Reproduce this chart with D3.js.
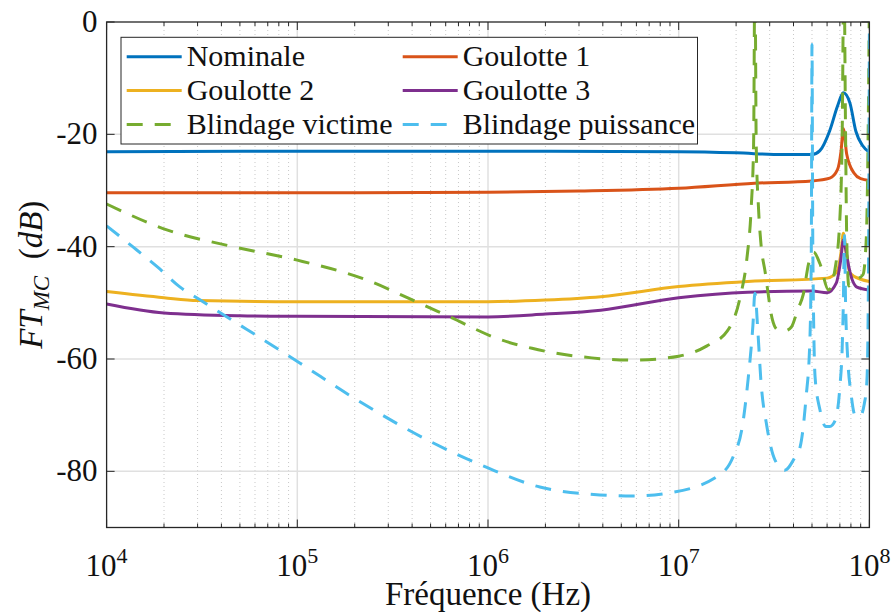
<!DOCTYPE html>
<html>
<head>
<meta charset="utf-8">
<script src="https://cdn.jsdelivr.net/npm/d3@7"></script>
</head>
<body style="margin:0">
<script>
// --- data (frequency in Hz, level in dB) ---
const freqNominale = [1e4, 1e5, 1e6, 1e7, 2e7, 3.5e7, 5e7, 5.5e7, 6.2e7, 6.8e7, 7.3e7, 7.9e7, 8.5e7, 9.2e7, 1e8];
const dbNominale   = [-23.1, -23.0, -23.0, -23.1, -23.3, -23.6, -23.6, -22.9, -19.3, -15.0, -12.6, -14.4, -19.5, -22.0, -23.2];

const freqGoulotte1 = [1e4, 1e5, 1e6, 3e6, 1e7, 2.5e7, 5e7, 6.2e7, 6.8e7, 7.1e7, 7.3e7, 7.6e7, 8.3e7, 9e7, 1e8];
const dbGoulotte1   = [-30.4, -30.4, -30.3, -30.1, -29.6, -28.7, -28.3, -27.8, -26.3, -23, -19.0, -23.5, -26.9, -27.9, -28.2];

const freqGoulotte2 = [1e4, 2e4, 3e4, 1e5, 1e6, 2e6, 3.9e6, 1e7, 2.3e7, 6e7, 6.8e7, 7.1e7, 7.3e7, 7.6e7, 7.9e7, 9e7, 1e8];
const dbGoulotte2   = [-48.0, -49.1, -49.6, -49.8, -49.8, -49.5, -48.9, -47.1, -46.2, -45.6, -44.3, -41, -37.6, -41.5, -44.7, -45.8, -46.2];

const freqGoulotte3 = [1e4, 2e4, 5e4, 1e5, 1e6, 2e6, 3.9e6, 1e7, 2.3e7, 5e7, 6e7, 6.7e7, 7.1e7, 7.3e7, 7.6e7, 7.8e7, 8.6e7, 1e8];
const dbGoulotte3   = [-50.2, -51.8, -52.3, -52.4, -52.5, -52.0, -51.3, -49.1, -48.1, -47.9, -48.2, -46.5, -42, -38.8, -41.5, -43.6, -47.2, -47.7];

const freqVictime = [1e4, 2.07e4, 4.6e4, 1e5, 2.3e5, 4.2e5, 6.3e5, 1.15e6, 1.7e6, 3.5e6, 5.8e6, 1e7, 1.4e7, 1.8e7,
  2.1e7, 2.28e7, 2.4e7, 2.47e7, 2.51e7, 2.55e7, 2.62e7, 2.7e7, 2.84e7, 3.1e7, 3.3e7, 3.6e7, 3.9e7, 4.2e7, 4.5e7,
  4.8e7, 5.1e7, 5.5e7, 6.1e7, 6.6e7, 7.0e7, 7.2e7, 7.35e7, 7.5e7, 7.6e7, 7.8e7, 8.4e7, 9.25e7, 9.5e7, 9.7e7, 9.85e7, 1e8];
const dbVictime = [-32.4, -37, -40, -42.4, -45.9, -49.8, -52.5, -56.5, -58.1, -59.8, -60.2, -59.5, -57.7, -55,
  -49, -42, -33, -22, 10, -22, -33, -39.5, -44.5, -53, -54.8, -55, -54.3, -51.3, -48.5,
  -43, -41, -43, -47.7, -44, -35, -20, 10, -20, -38, -47, -46, -45, -42, -35, -20, 5];

const freqPuissance = [1e4, 1.37e4, 1.86e4, 2.43e4, 3.1e4, 1.03e5, 1.97e5, 5.2e5, 1e6, 1.87e6, 3.86e6, 5.76e6, 8.7e6,
  1.58e7, 1.93e7, 2.17e7, 2.31e7, 2.45e7, 2.51e7, 2.6e7, 2.7e7, 2.9e7, 3.2e7, 3.6e7, 4.07e7, 4.33e7, 4.65e7, 4.87e7,
  4.96e7, 5.0e7, 5.05e7, 5.19e7, 5.5e7, 5.9e7, 6.2e7, 6.6e7, 7.0e7, 7.2e7, 7.3e7, 7.4e7, 7.5e7, 7.7e7, 8.0e7, 8.4e7,
  8.9e7, 9.4e7, 9.7e7, 9.85e7, 9.95e7, 1e8];
const dbPuissance = [-36.3, -40, -43.7, -47.2, -49.5, -60.7, -66.9, -75, -79.4, -82.8, -84.2, -84.4, -83.9,
  -81, -77.4, -71.4, -63.7, -54, -48.3, -55, -64, -72, -78, -79.8, -77.5, -75.7, -67, -57,
  -40, -4, -40, -63.2, -69, -72, -72, -71, -65, -58, -50, -38, -50, -60, -66, -70,
  -70.3, -68, -64, -52, -25, 2];

const xTicks = [1e4, 1e5, 1e6, 1e7, 1e8];
const yTicks = [0, -20, -40, -60, -80];

const SERIES = [
  { name: 'Nominale',           freq: freqNominale,  db: dbNominale,  color: '#0072BD', dash: null },
  { name: 'Goulotte 1',         freq: freqGoulotte1, db: dbGoulotte1, color: '#D95319', dash: null },
  { name: 'Goulotte 2',         freq: freqGoulotte2, db: dbGoulotte2, color: '#EDB120', dash: null },
  { name: 'Goulotte 3',         freq: freqGoulotte3, db: dbGoulotte3, color: '#7E2F8E', dash: null },
  { name: 'Blindage victime',   freq: freqVictime,   db: dbVictime,   color: '#77AC30', dash: '16,12' },
  { name: 'Blindage puissance', freq: freqPuissance, db: dbPuissance, color: '#4DBEEE', dash: '16,12' },
];

const FONT = '"Liberation Serif"';

const w = 892, h = 612;
const m = { top: 22, right: 22.6, bottom: 84.5, left: 106.6 };
const iw = w - m.left - m.right;
const ih = h - m.top - m.bottom;

const svg = d3.select('body').append('svg')
  .attr('width', w).attr('height', h);

svg.append('rect').attr('width', w).attr('height', h).attr('fill', '#fff');

const x = d3.scaleLog().domain([1e4, 1e8]).range([0, iw]);
const y = d3.scaleLinear().domain([-90, 0]).range([ih, 0]);

const g = svg.append('g').attr('transform', `translate(${m.left},${m.top})`);

g.append('clipPath').attr('id', 'plot-clip')
  .append('rect').attr('width', iw).attr('height', ih);

// minor decade values 2..9 x 10^n
const minorX = [];
for (let e = 4; e < 8; e++) for (let k = 2; k <= 9; k++) minorX.push(k * Math.pow(10, e));

// grid
g.append('g').selectAll('line').data(minorX).join('line')
  .attr('x1', d => x(d)).attr('x2', d => x(d))
  .attr('y1', 0).attr('y2', ih)
  .attr('stroke', '#c8c8c8').attr('stroke-width', 1)
  .attr('stroke-dasharray', '1,3');

g.append('g').selectAll('line').data(xTicks.slice(1, -1)).join('line')
  .attr('x1', d => x(d)).attr('x2', d => x(d))
  .attr('y1', 0).attr('y2', ih)
  .attr('stroke', '#e0e0e0').attr('stroke-width', 1.5);

g.append('g').selectAll('line').data(yTicks.slice(1)).join('line')
  .attr('x1', 0).attr('x2', iw)
  .attr('y1', d => y(d)).attr('y2', d => y(d))
  .attr('stroke', '#e0e0e0').attr('stroke-width', 1.5);

// curves
const line = d3.line()
  .x(d => x(d[0]))
  .y(d => y(d[1]))
  .curve(d3.curveMonotoneX);

const plot = g.append('g').attr('clip-path', 'url(#plot-clip)');
SERIES.forEach(s => {
  const pts = s.freq.map((f, i) => [f, s.db[i]]);
  plot.append('path')
    .datum(pts)
    .attr('d', line)
    .attr('fill', 'none')
    .attr('stroke', s.color)
    .attr('stroke-width', 3)
    .attr('stroke-dasharray', s.dash);
});

// tick marks, inside, on all four sides
const axisColor = '#262626';
const ticks = g.append('g').attr('stroke', axisColor).attr('stroke-width', 1);
[[xTicks, 8], [minorX, 4]].forEach(([vals, len]) => {
  ticks.append('g').selectAll('line').data(vals).join('line')
    .attr('x1', d => x(d)).attr('x2', d => x(d))
    .attr('y1', ih).attr('y2', ih - len);
  ticks.append('g').selectAll('line').data(vals).join('line')
    .attr('x1', d => x(d)).attr('x2', d => x(d))
    .attr('y1', 0).attr('y2', len);
});
ticks.append('g').selectAll('line').data(yTicks).join('line')
  .attr('x1', 0).attr('x2', 8)
  .attr('y1', d => y(d)).attr('y2', d => y(d));
ticks.append('g').selectAll('line').data(yTicks).join('line')
  .attr('x1', iw - 8).attr('x2', iw)
  .attr('y1', d => y(d)).attr('y2', d => y(d));

g.append('rect')
  .attr('width', iw).attr('height', ih)
  .attr('fill', 'none').attr('stroke', axisColor).attr('stroke-width', 1.3);

// tick labels
g.append('g').selectAll('text').data(yTicks).join('text')
  .attr('font-family', FONT)
  .attr('x', -9).attr('y', d => y(d) + 10)
  .attr('text-anchor', 'end')
  .attr('font-size', 31)
  .attr('fill', '#111')
  .text(d => d === 0 ? '0' : '-' + Math.abs(d));

const xl = g.append('g').selectAll('text').data(xTicks).join('text')
  .attr('font-family', FONT)
  .attr('x', d => x(d)).attr('y', ih + 48)
  .attr('text-anchor', 'middle')
  .attr('font-size', 31)
  .attr('fill', '#111');
xl.append('tspan').text('10');
xl.append('tspan').attr('font-size', 22).attr('dy', -13).text(d => Math.round(Math.log10(d)));

// axis titles
svg.append('text')
  .attr('font-family', FONT)
  .attr('x', m.left + iw / 2).attr('y', 605)
  .attr('text-anchor', 'middle')
  .attr('font-size', 33)
  .attr('fill', '#111')
  .text('Fréquence (Hz)');

const yl = svg.append('text')
  .attr('font-family', FONT)
  .attr('transform', `translate(42,${m.top + ih / 2}) rotate(-90)`)
  .attr('text-anchor', 'middle')
  .attr('font-size', 33)
  .attr('fill', '#111');
yl.append('tspan').attr('font-style', 'italic').text('FT');
yl.append('tspan').attr('font-style', 'italic').attr('font-size', 23).attr('dy', 7).text('MC');
yl.append('tspan').attr('dy', -7).text('\u2002(');
yl.append('tspan').attr('font-style', 'italic').text('dB');
yl.append('tspan').text(')');

// legend
const lg = svg.append('g');
lg.append('rect')
  .attr('x', 121).attr('y', 37.3)
  .attr('width', 576.5).attr('height', 106.7)
  .attr('fill', '#fff').attr('stroke', axisColor).attr('stroke-width', 1);

const colX = [126.7, 402.7];
const rowY = [56.7, 90.5, 124.5];
SERIES.forEach((s, i) => {
  const cx = colX[i % 2], cy = rowY[Math.floor(i / 2)];
  lg.append('line')
    .attr('x1', cx).attr('x2', cx + 55)
    .attr('y1', cy).attr('y2', cy)
    .attr('stroke', s.color).attr('stroke-width', 3)
    .attr('stroke-dasharray', s.dash);
  lg.append('text')
    .attr('font-family', FONT)
    .attr('x', cx + 60).attr('y', cy + 9)
    .attr('font-size', 30)
    .attr('fill', '#111')
    .text(s.name);
});
</script>
</body>
</html>
